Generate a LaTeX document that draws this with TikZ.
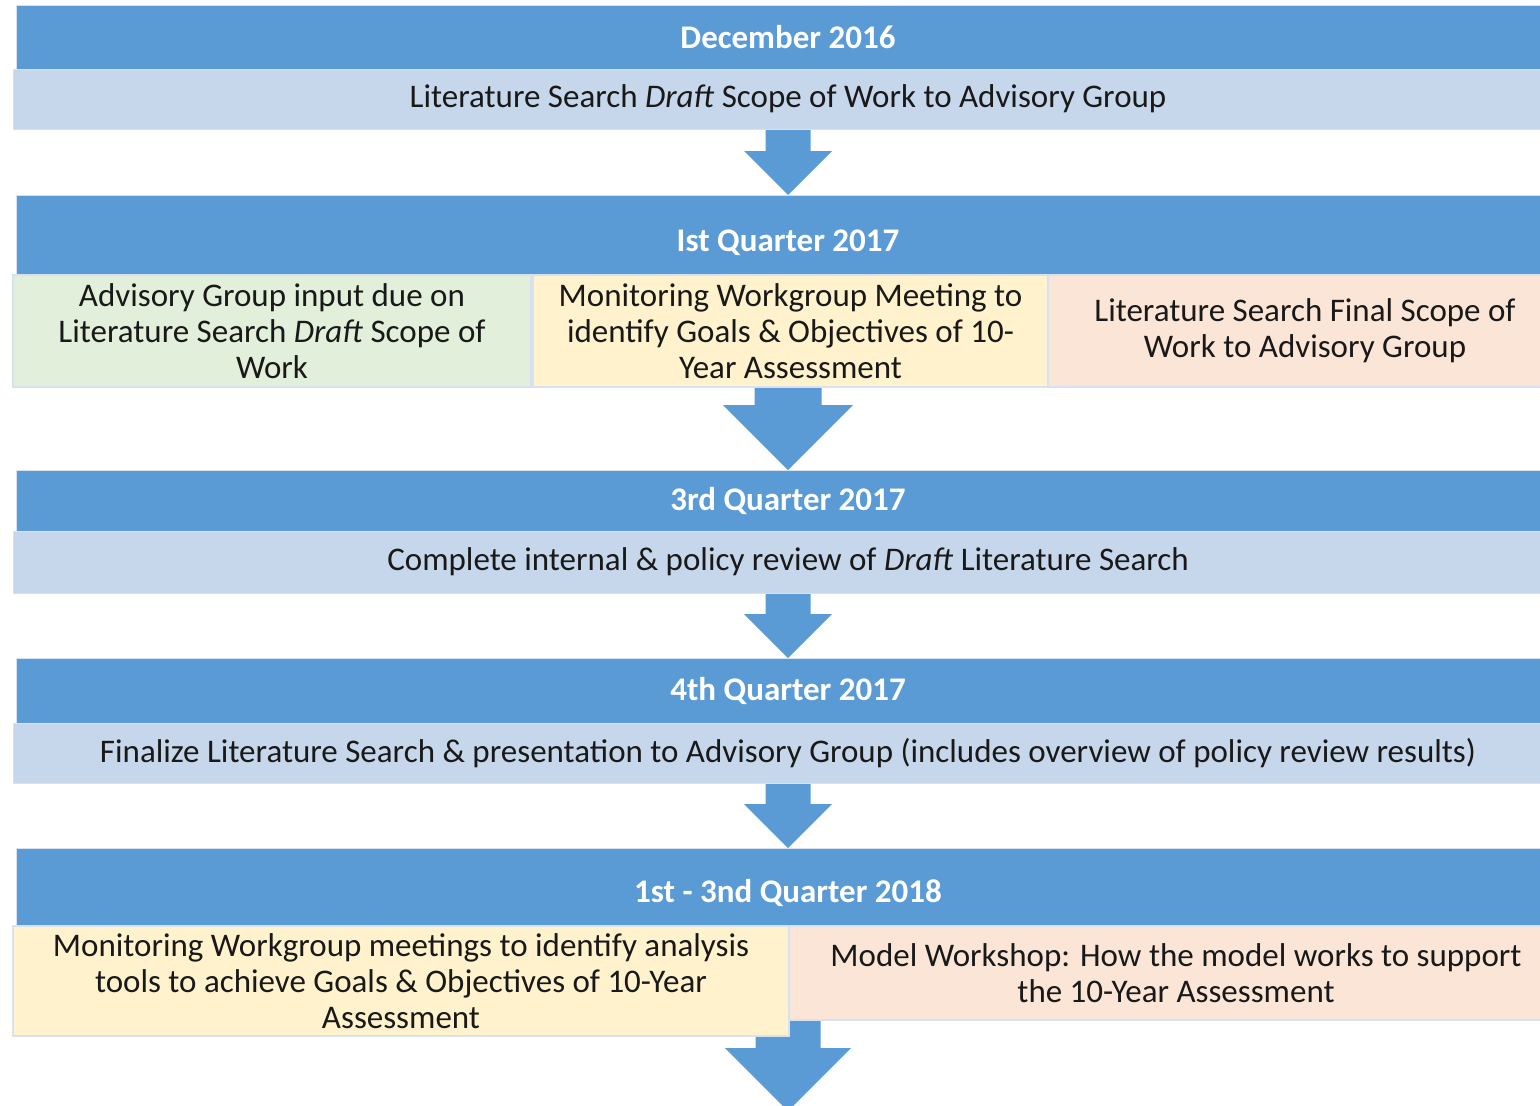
\documentclass[tikz,border=0pt]{standalone}
\usepackage{fontspec}
\setmainfont{Carlito}
\usetikzlibrary{positioning, calc, backgrounds}

\definecolor{stageblue}{HTML}{5B9BD5}
\definecolor{taskblue}{HTML}{C6D7EC}
\definecolor{edgeblue}{HTML}{D6E2F2}
\definecolor{itemgreen}{HTML}{E2EFDA}
\definecolor{itemyellow}{HTML}{FFF2CC}
\definecolor{itempeach}{HTML}{FBE5D6}

% block arrow from the bottom of one node down to the top of the next
\newcommand{\stagearrow}[4]{%
  \fill[stageblue] ($(#2.north |- #1.south)+(-#3,0)$)
    -- ($(#2.north)+(-#3,-#4)$) -- ($(#2.north)+(-#4,-#4)$)
    -- (#2.north)
    -- ($(#2.north)+(#4,-#4)$) -- ($(#2.north)+(#3,-#4)$)
    -- ($(#2.north |- #1.south)+(#3,0)$) -- cycle;}

\newcommand{\flowfont}{\fontsize{16.5}{18}\selectfont}
% lower a label a little without changing its box
\newcommand{\lowered}[2]{\raisebox{-#1}[\height][\depth]{#2}}

\begin{document}
\begin{tikzpicture}[x=0.5pt, y=-0.5pt, font=\flowfont]

    % Define the styles for the nodes
    \tikzstyle{stage} = [rectangle, fill=stageblue, draw=edgeblue, line width=0.4pt, text=white, font=\flowfont\bfseries, minimum width=772pt, anchor=north, inner sep=0pt, outer sep=0pt]
    \tikzstyle{task} = [rectangle, fill=taskblue, draw=edgeblue, line width=0.4pt, text=black!90, minimum width=775pt, inner sep=0pt, outer sep=0pt]
    \tikzstyle{item} = [rectangle, draw=edgeblue, line width=0.6pt, text=black!90, align=center, anchor=north west, inner sep=0pt, outer sep=0pt]

    \useasboundingbox (0,0) rectangle (1540,1105);
    \clip (0,0) rectangle (1540,1105);

    % December 2016
    \node (dec16) [stage, minimum height=32pt] at (788,5) {December 2016};
    \node (draftScope) [task, below=0pt of dec16, minimum height=30pt] {Literature Search \textit{Draft} Scope of Work to Advisory Group};

    % 1st quarter 2017
    \node (q1) [stage, minimum height=40pt] at (788,195) {\lowered{4pt}{Ist Quarter 2017}};
    \node (agInput) [item, fill=itemgreen, minimum width=259pt, minimum height=56pt] at (13,275) {Advisory Group input due on\\Literature Search \textit{Draft} Scope of\\Work};
    \node (mwMeeting) [item, fill=itemyellow, minimum width=257.5pt, minimum height=56pt, right=1pt of agInput] {Monitoring Workgroup Meeting to\\identify Goals \& Objectives of 10-\\Year Assessment};
    \node (finalScope) [item, fill=itempeach, minimum width=257pt, minimum height=56pt, right=0pt of mwMeeting] {Literature Search Final Scope of\\Work to Advisory Group};

    % 3rd quarter 2017
    \node (q3) [stage, minimum height=30.5pt] at (788,470) {3rd Quarter 2017};
    \node (reviewDraft) [task, below=0pt of q3, minimum height=31pt] {Complete internal \& policy review of \textit{Draft} Literature Search};

    % 4th quarter 2017
    \node (q4) [stage, minimum height=32.5pt] at (788,658) {4th Quarter 2017};
    \node (finalize) [task, below=0pt of q4, minimum height=30pt] {Finalize Literature Search \& presentation to Advisory Group (includes overview of policy review results)};

    % 1st - 3rd quarter 2018
    \node (q18) [stage, minimum height=39pt] at (788,848) {\lowered{3pt}{1st - 3nd Quarter 2018}};
    \node (analysisTools) [item, fill=itemyellow, minimum width=388pt, minimum height=55pt] at (13,926) {Monitoring Workgroup meetings to identify analysis\\tools to achieve Goals \& Objectives of 10-Year\\Assessment};
    \node (modelWorkshop) [item, fill=itempeach, minimum width=387pt, minimum height=47pt] at (analysisTools.north east) {Model Workshop: How the model works to support\\the 10-Year Assessment};
    \coordinate (nextStage) at (788,1111);

    % Arrows
    \begin{pgfonlayer}{background}
        \stagearrow{draftScope}{q1}{22.5}{44}
        \stagearrow{mwMeeting}{q3}{33.5}{65}
        \stagearrow{reviewDraft}{q4}{22.5}{44}
        \stagearrow{finalize}{q18}{22.5}{44}
        \stagearrow{modelWorkshop}{nextStage}{32.5}{63}
    \end{pgfonlayer}

\end{tikzpicture}
\end{document}
